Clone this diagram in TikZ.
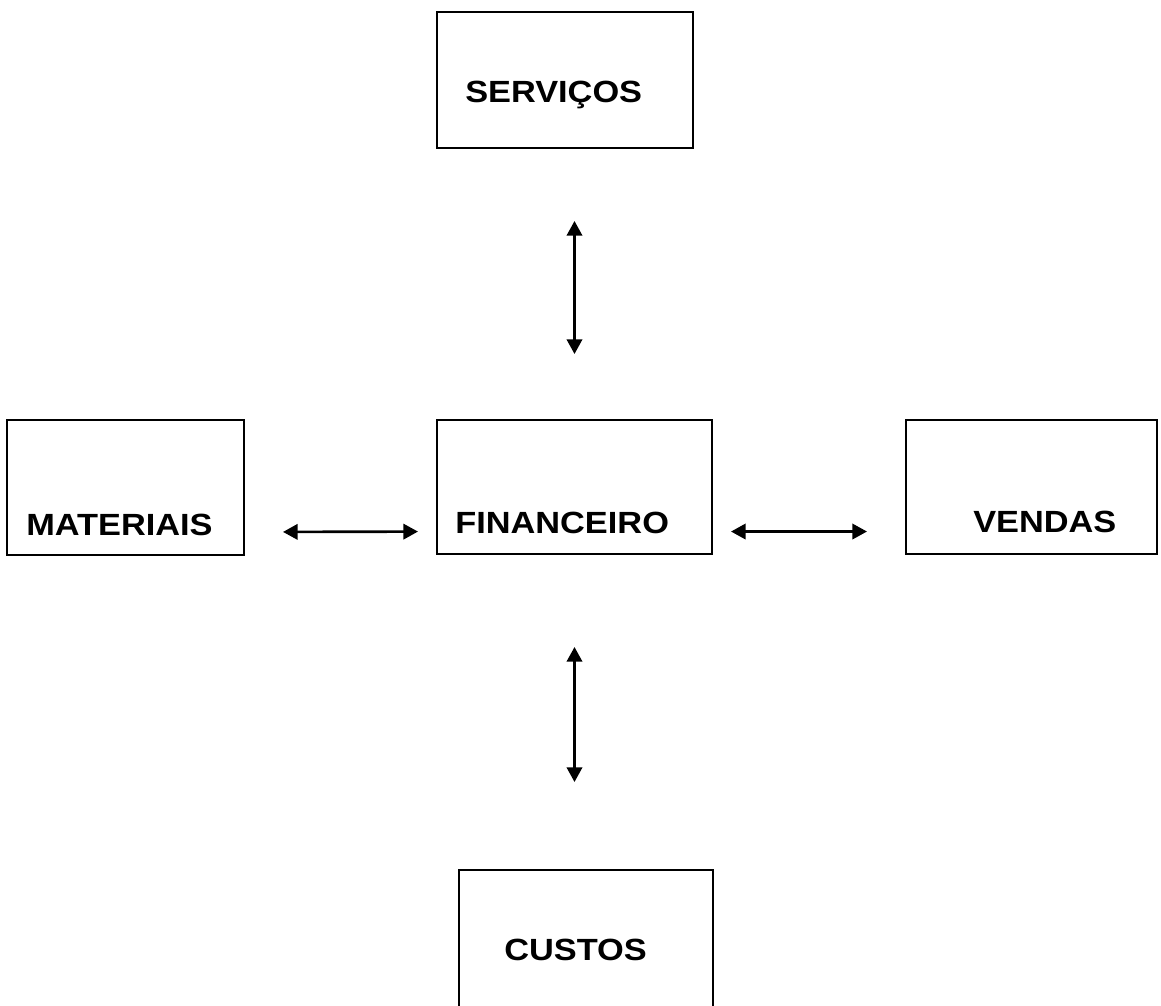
\documentclass[tikz,border=0pt]{standalone}
\usepackage{fontspec}
\newfontfamily\boxfont[FakeStretch=1.12]{Liberation Sans}
\usetikzlibrary{arrows.meta}

\begin{document}
\begin{tikzpicture}[x=0.75pt, y=-0.75pt,
    box/.style={draw, line width=1.1pt, inner sep=0pt, outer sep=0pt},
    boxname/.style={anchor=base west, inner sep=0pt, font=\boxfont\fontsize{23}{27}\selectfont\bfseries},
    link/.style={{Triangle[length=11pt,width=11.5pt]}-{Triangle[length=11pt,width=11.5pt]}, line width=2pt}]
    \useasboundingbox (0, 0) rectangle (1161, 1006);
    \clip (0, 0) rectangle (1161, 1006);

    % Caixas
    \node[box, minimum width=192pt, minimum height=102pt] (serv) at (565, 80) {};
    \node[box, minimum width=177.75pt, minimum height=101.25pt] (mat) at (125.5, 487.5) {};
    \node[box, minimum width=206.25pt, minimum height=100.5pt] (fin) at (574.5, 487) {};
    \node[box, minimum width=188.25pt, minimum height=100.5pt] (vend) at (1031.5, 487) {};
    \node[box, minimum width=190.5pt, minimum height=106.5pt] (cust) at (586, 941) {};

    % Nomes
    \node[boxname] (servtxt) at (465, 103) {SERVIÇOS};
    \node[boxname] (mattxt) at (26, 535) {MATERIAIS};
    \node[boxname] (fintxt) at (455, 533) {FINANCEIRO};
    \node[boxname] (vendtxt) at (973, 532) {VENDAS};
    \node[boxname] (custtxt) at (504, 960) {CUSTOS};

    % Setas
    \draw[link, shorten <=54.75pt, shorten >=49.5pt] (fin.north |- serv.south) -- (fin.north);
    \draw[link, shorten <=29.25pt, shorten >=14.25pt] ([yshift=-33.4pt]mat.east) -- ([yshift=-33.4pt]fin.west);
    \draw[link, shorten <=14.25pt, shorten >=29.25pt] ([yshift=-33.4pt]fin.east) -- ([yshift=-33.4pt]vend.west);
    \draw[link, shorten <=69.75pt, shorten >=66pt] (fin.south) -- (fin.south |- cust.north);

\end{tikzpicture}
\end{document}
